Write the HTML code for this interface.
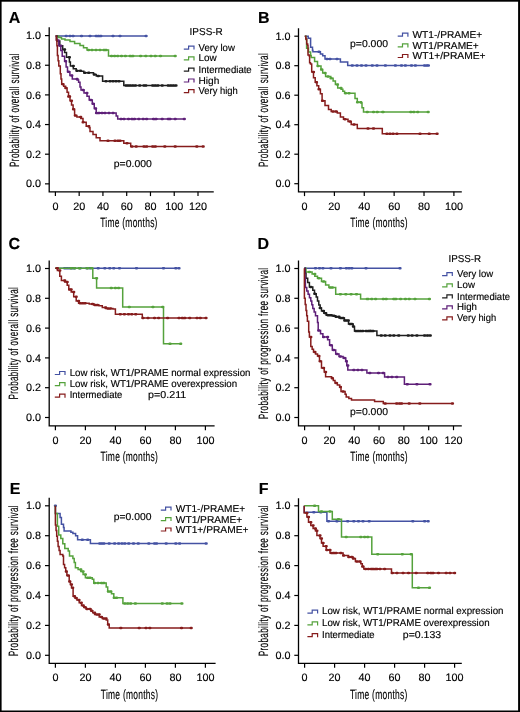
<!DOCTYPE html>
<html><head><meta charset="utf-8"><style>
html,body{margin:0;padding:0;background:#fff;width:520px;height:712px;overflow:hidden}
svg{display:block;will-change:transform}
text{font-family:"Liberation Sans", sans-serif;fill:#000;stroke:#000;stroke-width:0.15px;text-rendering:geometricPrecision}
</style></head><body>
<svg width="520" height="712" viewBox="0 0 520 712">
<rect x="0" y="0" width="520" height="712" fill="#fff"/>
<path d="M49.2 27.3 V191.8 H213.75" fill="none" stroke="#000" stroke-width="1.3"/>
<path d="M45.0 183.85 H49.2" stroke="#000" stroke-width="1.2"/>
<text x="41.1" y="187.45" font-size="10.8" text-anchor="end">0.0</text>
<path d="M45.0 154.20 H49.2" stroke="#000" stroke-width="1.2"/>
<text x="41.1" y="157.8" font-size="10.8" text-anchor="end">0.2</text>
<path d="M45.0 124.55 H49.2" stroke="#000" stroke-width="1.2"/>
<text x="41.1" y="128.15" font-size="10.8" text-anchor="end">0.4</text>
<path d="M45.0 94.90 H49.2" stroke="#000" stroke-width="1.2"/>
<text x="41.1" y="98.5" font-size="10.8" text-anchor="end">0.6</text>
<path d="M45.0 65.25 H49.2" stroke="#000" stroke-width="1.2"/>
<text x="41.1" y="68.85" font-size="10.8" text-anchor="end">0.8</text>
<path d="M45.0 35.60 H49.2" stroke="#000" stroke-width="1.2"/>
<text x="41.1" y="39.2" font-size="10.8" text-anchor="end">1.0</text>
<path d="M55.40 191.8 V196.10000000000002" stroke="#000" stroke-width="1.2"/>
<text x="55.4" y="209.8" font-size="10.8" text-anchor="middle">0</text>
<path d="M79.17 191.8 V196.10000000000002" stroke="#000" stroke-width="1.2"/>
<text x="79.17" y="209.8" font-size="10.8" text-anchor="middle">20</text>
<path d="M102.93 191.8 V196.10000000000002" stroke="#000" stroke-width="1.2"/>
<text x="102.93" y="209.8" font-size="10.8" text-anchor="middle">40</text>
<path d="M126.70 191.8 V196.10000000000002" stroke="#000" stroke-width="1.2"/>
<text x="126.7" y="209.8" font-size="10.8" text-anchor="middle">60</text>
<path d="M150.47 191.8 V196.10000000000002" stroke="#000" stroke-width="1.2"/>
<text x="150.47" y="209.8" font-size="10.8" text-anchor="middle">80</text>
<path d="M174.23 191.8 V196.10000000000002" stroke="#000" stroke-width="1.2"/>
<text x="174.23" y="209.8" font-size="10.8" text-anchor="middle">100</text>
<path d="M198.00 191.8 V196.10000000000002" stroke="#000" stroke-width="1.2"/>
<text x="198.0" y="209.8" font-size="10.8" text-anchor="middle">120</text>
<path d="M298.5 28.2 V191.8 H461.8" fill="none" stroke="#000" stroke-width="1.3"/>
<path d="M294.3 183.70 H298.5" stroke="#000" stroke-width="1.2"/>
<text x="290.4" y="187.3" font-size="10.8" text-anchor="end">0.0</text>
<path d="M294.3 154.20 H298.5" stroke="#000" stroke-width="1.2"/>
<text x="290.4" y="157.8" font-size="10.8" text-anchor="end">0.2</text>
<path d="M294.3 124.70 H298.5" stroke="#000" stroke-width="1.2"/>
<text x="290.4" y="128.3" font-size="10.8" text-anchor="end">0.4</text>
<path d="M294.3 95.20 H298.5" stroke="#000" stroke-width="1.2"/>
<text x="290.4" y="98.8" font-size="10.8" text-anchor="end">0.6</text>
<path d="M294.3 65.70 H298.5" stroke="#000" stroke-width="1.2"/>
<text x="290.4" y="69.3" font-size="10.8" text-anchor="end">0.8</text>
<path d="M294.3 36.20 H298.5" stroke="#000" stroke-width="1.2"/>
<text x="290.4" y="39.8" font-size="10.8" text-anchor="end">1.0</text>
<path d="M304.50 191.8 V196.10000000000002" stroke="#000" stroke-width="1.2"/>
<text x="304.5" y="209.8" font-size="10.8" text-anchor="middle">0</text>
<path d="M334.38 191.8 V196.10000000000002" stroke="#000" stroke-width="1.2"/>
<text x="334.38" y="209.8" font-size="10.8" text-anchor="middle">20</text>
<path d="M364.26 191.8 V196.10000000000002" stroke="#000" stroke-width="1.2"/>
<text x="364.26" y="209.8" font-size="10.8" text-anchor="middle">40</text>
<path d="M394.14 191.8 V196.10000000000002" stroke="#000" stroke-width="1.2"/>
<text x="394.14" y="209.8" font-size="10.8" text-anchor="middle">60</text>
<path d="M424.02 191.8 V196.10000000000002" stroke="#000" stroke-width="1.2"/>
<text x="424.02" y="209.8" font-size="10.8" text-anchor="middle">80</text>
<path d="M453.90 191.8 V196.10000000000002" stroke="#000" stroke-width="1.2"/>
<text x="453.9" y="209.8" font-size="10.8" text-anchor="middle">100</text>
<path d="M49.2 260.4 V425.9 H214.6" fill="none" stroke="#000" stroke-width="1.3"/>
<path d="M45.0 417.50 H49.2" stroke="#000" stroke-width="1.2"/>
<text x="41.1" y="421.1" font-size="10.8" text-anchor="end">0.0</text>
<path d="M45.0 387.70 H49.2" stroke="#000" stroke-width="1.2"/>
<text x="41.1" y="391.3" font-size="10.8" text-anchor="end">0.2</text>
<path d="M45.0 357.90 H49.2" stroke="#000" stroke-width="1.2"/>
<text x="41.1" y="361.5" font-size="10.8" text-anchor="end">0.4</text>
<path d="M45.0 328.10 H49.2" stroke="#000" stroke-width="1.2"/>
<text x="41.1" y="331.7" font-size="10.8" text-anchor="end">0.6</text>
<path d="M45.0 298.30 H49.2" stroke="#000" stroke-width="1.2"/>
<text x="41.1" y="301.9" font-size="10.8" text-anchor="end">0.8</text>
<path d="M45.0 268.50 H49.2" stroke="#000" stroke-width="1.2"/>
<text x="41.1" y="272.1" font-size="10.8" text-anchor="end">1.0</text>
<path d="M55.40 425.9 V430.2" stroke="#000" stroke-width="1.2"/>
<text x="55.4" y="443.9" font-size="10.8" text-anchor="middle">0</text>
<path d="M85.40 425.9 V430.2" stroke="#000" stroke-width="1.2"/>
<text x="85.4" y="443.9" font-size="10.8" text-anchor="middle">20</text>
<path d="M115.40 425.9 V430.2" stroke="#000" stroke-width="1.2"/>
<text x="115.4" y="443.9" font-size="10.8" text-anchor="middle">40</text>
<path d="M145.40 425.9 V430.2" stroke="#000" stroke-width="1.2"/>
<text x="145.4" y="443.9" font-size="10.8" text-anchor="middle">60</text>
<path d="M175.40 425.9 V430.2" stroke="#000" stroke-width="1.2"/>
<text x="175.4" y="443.9" font-size="10.8" text-anchor="middle">80</text>
<path d="M205.40 425.9 V430.2" stroke="#000" stroke-width="1.2"/>
<text x="205.4" y="443.9" font-size="10.8" text-anchor="middle">100</text>
<path d="M298.5 260.5 V425.9 H461.8" fill="none" stroke="#000" stroke-width="1.3"/>
<path d="M294.3 417.50 H298.5" stroke="#000" stroke-width="1.2"/>
<text x="290.4" y="421.1" font-size="10.8" text-anchor="end">0.0</text>
<path d="M294.3 387.70 H298.5" stroke="#000" stroke-width="1.2"/>
<text x="290.4" y="391.3" font-size="10.8" text-anchor="end">0.2</text>
<path d="M294.3 357.90 H298.5" stroke="#000" stroke-width="1.2"/>
<text x="290.4" y="361.5" font-size="10.8" text-anchor="end">0.4</text>
<path d="M294.3 328.10 H298.5" stroke="#000" stroke-width="1.2"/>
<text x="290.4" y="331.7" font-size="10.8" text-anchor="end">0.6</text>
<path d="M294.3 298.30 H298.5" stroke="#000" stroke-width="1.2"/>
<text x="290.4" y="301.9" font-size="10.8" text-anchor="end">0.8</text>
<path d="M294.3 268.50 H298.5" stroke="#000" stroke-width="1.2"/>
<text x="290.4" y="272.1" font-size="10.8" text-anchor="end">1.0</text>
<path d="M304.60 425.9 V430.2" stroke="#000" stroke-width="1.2"/>
<text x="304.6" y="443.9" font-size="10.8" text-anchor="middle">0</text>
<path d="M329.42 425.9 V430.2" stroke="#000" stroke-width="1.2"/>
<text x="329.42" y="443.9" font-size="10.8" text-anchor="middle">20</text>
<path d="M354.23 425.9 V430.2" stroke="#000" stroke-width="1.2"/>
<text x="354.23" y="443.9" font-size="10.8" text-anchor="middle">40</text>
<path d="M379.05 425.9 V430.2" stroke="#000" stroke-width="1.2"/>
<text x="379.05" y="443.9" font-size="10.8" text-anchor="middle">60</text>
<path d="M403.87 425.9 V430.2" stroke="#000" stroke-width="1.2"/>
<text x="403.87" y="443.9" font-size="10.8" text-anchor="middle">80</text>
<path d="M428.68 425.9 V430.2" stroke="#000" stroke-width="1.2"/>
<text x="428.68" y="443.9" font-size="10.8" text-anchor="middle">100</text>
<path d="M453.50 425.9 V430.2" stroke="#000" stroke-width="1.2"/>
<text x="453.5" y="443.9" font-size="10.8" text-anchor="middle">120</text>
<path d="M49.2 497.7 V663.4 H215.6" fill="none" stroke="#000" stroke-width="1.3"/>
<path d="M45.0 655.30 H49.2" stroke="#000" stroke-width="1.2"/>
<text x="41.1" y="658.9" font-size="10.8" text-anchor="end">0.0</text>
<path d="M45.0 625.40 H49.2" stroke="#000" stroke-width="1.2"/>
<text x="41.1" y="629.0" font-size="10.8" text-anchor="end">0.2</text>
<path d="M45.0 595.50 H49.2" stroke="#000" stroke-width="1.2"/>
<text x="41.1" y="599.1" font-size="10.8" text-anchor="end">0.4</text>
<path d="M45.0 565.60 H49.2" stroke="#000" stroke-width="1.2"/>
<text x="41.1" y="569.2" font-size="10.8" text-anchor="end">0.6</text>
<path d="M45.0 535.70 H49.2" stroke="#000" stroke-width="1.2"/>
<text x="41.1" y="539.3" font-size="10.8" text-anchor="end">0.8</text>
<path d="M45.0 505.80 H49.2" stroke="#000" stroke-width="1.2"/>
<text x="41.1" y="509.4" font-size="10.8" text-anchor="end">1.0</text>
<path d="M55.40 663.4 V667.6999999999999" stroke="#000" stroke-width="1.2"/>
<text x="55.4" y="681.4" font-size="10.8" text-anchor="middle">0</text>
<path d="M85.40 663.4 V667.6999999999999" stroke="#000" stroke-width="1.2"/>
<text x="85.4" y="681.4" font-size="10.8" text-anchor="middle">20</text>
<path d="M115.40 663.4 V667.6999999999999" stroke="#000" stroke-width="1.2"/>
<text x="115.4" y="681.4" font-size="10.8" text-anchor="middle">40</text>
<path d="M145.40 663.4 V667.6999999999999" stroke="#000" stroke-width="1.2"/>
<text x="145.4" y="681.4" font-size="10.8" text-anchor="middle">60</text>
<path d="M175.40 663.4 V667.6999999999999" stroke="#000" stroke-width="1.2"/>
<text x="175.4" y="681.4" font-size="10.8" text-anchor="middle">80</text>
<path d="M205.40 663.4 V667.6999999999999" stroke="#000" stroke-width="1.2"/>
<text x="205.4" y="681.4" font-size="10.8" text-anchor="middle">100</text>
<path d="M298.5 498.2 V663.4 H461.8" fill="none" stroke="#000" stroke-width="1.3"/>
<path d="M294.3 655.30 H298.5" stroke="#000" stroke-width="1.2"/>
<text x="290.4" y="658.9" font-size="10.8" text-anchor="end">0.0</text>
<path d="M294.3 625.40 H298.5" stroke="#000" stroke-width="1.2"/>
<text x="290.4" y="629.0" font-size="10.8" text-anchor="end">0.2</text>
<path d="M294.3 595.50 H298.5" stroke="#000" stroke-width="1.2"/>
<text x="290.4" y="599.1" font-size="10.8" text-anchor="end">0.4</text>
<path d="M294.3 565.60 H298.5" stroke="#000" stroke-width="1.2"/>
<text x="290.4" y="569.2" font-size="10.8" text-anchor="end">0.6</text>
<path d="M294.3 535.70 H298.5" stroke="#000" stroke-width="1.2"/>
<text x="290.4" y="539.3" font-size="10.8" text-anchor="end">0.8</text>
<path d="M294.3 505.80 H298.5" stroke="#000" stroke-width="1.2"/>
<text x="290.4" y="509.4" font-size="10.8" text-anchor="end">1.0</text>
<path d="M304.60 663.4 V667.6999999999999" stroke="#000" stroke-width="1.2"/>
<text x="304.6" y="681.4" font-size="10.8" text-anchor="middle">0</text>
<path d="M334.60 663.4 V667.6999999999999" stroke="#000" stroke-width="1.2"/>
<text x="334.6" y="681.4" font-size="10.8" text-anchor="middle">20</text>
<path d="M364.60 663.4 V667.6999999999999" stroke="#000" stroke-width="1.2"/>
<text x="364.6" y="681.4" font-size="10.8" text-anchor="middle">40</text>
<path d="M394.60 663.4 V667.6999999999999" stroke="#000" stroke-width="1.2"/>
<text x="394.6" y="681.4" font-size="10.8" text-anchor="middle">60</text>
<path d="M424.60 663.4 V667.6999999999999" stroke="#000" stroke-width="1.2"/>
<text x="424.6" y="681.4" font-size="10.8" text-anchor="middle">80</text>
<path d="M454.60 663.4 V667.6999999999999" stroke="#000" stroke-width="1.2"/>
<text x="454.6" y="681.4" font-size="10.8" text-anchor="middle">100</text>
<text x="8.8" y="22.9" font-size="16" font-weight="bold">A</text>
<text x="257.9" y="23.1" font-size="16" font-weight="bold">B</text>
<text x="8.5" y="249.2" font-size="16" font-weight="bold">C</text>
<text x="257.6" y="249.4" font-size="16" font-weight="bold">D</text>
<text x="9.8" y="493.8" font-size="16" font-weight="bold">E</text>
<text x="258.8" y="493.8" font-size="16" font-weight="bold">F</text>
<text transform="translate(19.0 166.9) rotate(-90)" x="0" y="0" font-size="13.5" textLength="113.7" lengthAdjust="spacingAndGlyphs" style="letter-spacing:0.6px" stroke="#111" stroke-width="0.3">Probability of overall survival</text>
<text transform="translate(267.7 167.10000000000002) rotate(-90)" x="0" y="0" font-size="13.5" textLength="114.2" lengthAdjust="spacingAndGlyphs" style="letter-spacing:0.6px" stroke="#111" stroke-width="0.3">Probability of overall survival</text>
<text transform="translate(18.3 399.40000000000003) rotate(-90)" x="0" y="0" font-size="13.5" textLength="112.6" lengthAdjust="spacingAndGlyphs" style="letter-spacing:0.6px" stroke="#111" stroke-width="0.3">Probability of overall survival</text>
<text transform="translate(268.1 419.2) rotate(-90)" x="0" y="0" font-size="13.5" textLength="151.6" lengthAdjust="spacingAndGlyphs" style="letter-spacing:0.6px" stroke="#111" stroke-width="0.3">Probability of progression free survival</text>
<text transform="translate(18.2 656.1999999999999) rotate(-90)" x="0" y="0" font-size="13.5" textLength="151.2" lengthAdjust="spacingAndGlyphs" style="letter-spacing:0.6px" stroke="#111" stroke-width="0.3">Probability of progression free survival</text>
<text transform="translate(268.1 656.1999999999999) rotate(-90)" x="0" y="0" font-size="13.5" textLength="151.2" lengthAdjust="spacingAndGlyphs" style="letter-spacing:0.6px" stroke="#111" stroke-width="0.3">Probability of progression free survival</text>
<text x="100.2" y="227.3" font-size="13.3" textLength="57.5" lengthAdjust="spacingAndGlyphs" stroke="#000" stroke-width="0.35" style="letter-spacing:0.4px">Time (months)</text>
<text x="350.3" y="227.3" font-size="13.3" textLength="57.5" lengthAdjust="spacingAndGlyphs" stroke="#000" stroke-width="0.35" style="letter-spacing:0.4px">Time (months)</text>
<text x="100.6" y="461.0" font-size="13.3" textLength="57.5" lengthAdjust="spacingAndGlyphs" stroke="#000" stroke-width="0.35" style="letter-spacing:0.4px">Time (months)</text>
<text x="350.3" y="461.0" font-size="13.3" textLength="57.5" lengthAdjust="spacingAndGlyphs" stroke="#000" stroke-width="0.35" style="letter-spacing:0.4px">Time (months)</text>
<text x="100.8" y="699.0" font-size="13.3" textLength="57.5" lengthAdjust="spacingAndGlyphs" stroke="#000" stroke-width="0.35" style="letter-spacing:0.4px">Time (months)</text>
<text x="350.0" y="699.0" font-size="13.3" textLength="57.5" lengthAdjust="spacingAndGlyphs" stroke="#000" stroke-width="0.35" style="letter-spacing:0.4px">Time (months)</text>
<text x="189.6" y="35.2" font-size="10" textLength="33.2" lengthAdjust="spacingAndGlyphs">IPSS-R</text>
<path d="M183.8 49.1 H188.60000000000002 V46.1 H194.0 V49.6" fill="none" stroke="#4452a3" stroke-width="1.2"/>
<text x="198.5" y="50.6" font-size="10" textLength="36.4" lengthAdjust="spacingAndGlyphs" stroke="#000" stroke-width="0.2">Very low</text>
<path d="M183.8 59.9 H188.60000000000002 V56.9 H194.0 V60.4" fill="none" stroke="#55a23c" stroke-width="1.2"/>
<text x="198.5" y="61.4" font-size="10" textLength="18.2" lengthAdjust="spacingAndGlyphs" stroke="#000" stroke-width="0.2">Low</text>
<path d="M183.8 71.1 H188.60000000000002 V68.1 H194.0 V71.6" fill="none" stroke="#1e1e1e" stroke-width="1.2"/>
<text x="198.5" y="72.6" font-size="10" textLength="53.2" lengthAdjust="spacingAndGlyphs" stroke="#000" stroke-width="0.2">Intermediate</text>
<path d="M183.8 82.0 H188.60000000000002 V79.0 H194.0 V82.5" fill="none" stroke="#5e1f78" stroke-width="1.2"/>
<text x="198.5" y="83.5" font-size="10" textLength="20.8" lengthAdjust="spacingAndGlyphs" stroke="#000" stroke-width="0.2">High</text>
<path d="M183.8 92.7 H188.60000000000002 V89.7 H194.0 V93.2" fill="none" stroke="#861c1c" stroke-width="1.2"/>
<text x="198.5" y="94.2" font-size="10" textLength="39.3" lengthAdjust="spacingAndGlyphs" stroke="#000" stroke-width="0.2">Very high</text>
<text x="113.8" y="166.6" font-size="10" textLength="38" lengthAdjust="spacingAndGlyphs">p=0.000</text>
<path d="M397.7 36.199999999999996 H402.5 V33.199999999999996 H407.9 V36.699999999999996" fill="none" stroke="#4452a3" stroke-width="1.2"/>
<text x="412.5" y="37.8" font-size="10" textLength="69.8" lengthAdjust="spacingAndGlyphs" stroke="#000" stroke-width="0.2">WT1-/PRAME+</text>
<path d="M397.7 46.9 H402.5 V43.9 H407.9 V47.4" fill="none" stroke="#55a23c" stroke-width="1.2"/>
<text x="412.5" y="48.5" font-size="10" textLength="66.3" lengthAdjust="spacingAndGlyphs" stroke="#000" stroke-width="0.2">WT1/PRAME+</text>
<path d="M397.7 57.5 H402.5 V54.5 H407.9 V58.0" fill="none" stroke="#861c1c" stroke-width="1.2"/>
<text x="412.5" y="59.1" font-size="10" textLength="73.1" lengthAdjust="spacingAndGlyphs" stroke="#000" stroke-width="0.2">WT1+/PRAME+</text>
<text x="350" y="46.5" font-size="10" textLength="38" lengthAdjust="spacingAndGlyphs">p=0.000</text>
<path d="M54.8 374.5 H59.599999999999994 V371.5 H65.0 V375.0" fill="none" stroke="#4452a3" stroke-width="1.2"/>
<text x="69.7" y="375.6" font-size="10" textLength="180.8" lengthAdjust="spacingAndGlyphs" stroke="#000" stroke-width="0.2">Low risk, WT1/PRAME normal expression</text>
<path d="M54.8 385.7 H59.599999999999994 V382.7 H65.0 V386.2" fill="none" stroke="#55a23c" stroke-width="1.2"/>
<text x="69.7" y="386.8" font-size="10" textLength="167.5" lengthAdjust="spacingAndGlyphs" stroke="#000" stroke-width="0.2">Low risk, WT1/PRAME overexpression</text>
<path d="M54.8 397.2 H59.599999999999994 V394.2 H65.0 V397.7" fill="none" stroke="#861c1c" stroke-width="1.2"/>
<text x="69.7" y="398.3" font-size="10" textLength="52.6" lengthAdjust="spacingAndGlyphs" stroke="#000" stroke-width="0.2">Intermediate</text>
<text x="148.1" y="398.3" font-size="10" textLength="38.2" lengthAdjust="spacingAndGlyphs">p=0.211</text>
<text x="448.5" y="261.7" font-size="10" textLength="32.7" lengthAdjust="spacingAndGlyphs">IPSS-R</text>
<path d="M442.1 275.59999999999997 H446.90000000000003 V272.59999999999997 H452.3 V276.09999999999997" fill="none" stroke="#4452a3" stroke-width="1.2"/>
<text x="457.1" y="277.2" font-size="10" textLength="36.1" lengthAdjust="spacingAndGlyphs" stroke="#000" stroke-width="0.2">Very low</text>
<path d="M442.1 286.79999999999995 H446.90000000000003 V283.79999999999995 H452.3 V287.29999999999995" fill="none" stroke="#55a23c" stroke-width="1.2"/>
<text x="457.1" y="288.4" font-size="10" textLength="17.8" lengthAdjust="spacingAndGlyphs" stroke="#000" stroke-width="0.2">Low</text>
<path d="M442.1 297.9 H446.90000000000003 V294.9 H452.3 V298.4" fill="none" stroke="#1e1e1e" stroke-width="1.2"/>
<text x="457.1" y="299.5" font-size="10" textLength="53.0" lengthAdjust="spacingAndGlyphs" stroke="#000" stroke-width="0.2">Intermediate</text>
<path d="M442.1 308.79999999999995 H446.90000000000003 V305.79999999999995 H452.3 V309.29999999999995" fill="none" stroke="#5e1f78" stroke-width="1.2"/>
<text x="457.1" y="310.4" font-size="10" textLength="19.9" lengthAdjust="spacingAndGlyphs" stroke="#000" stroke-width="0.2">High</text>
<path d="M442.1 319.79999999999995 H446.90000000000003 V316.79999999999995 H452.3 V320.29999999999995" fill="none" stroke="#861c1c" stroke-width="1.2"/>
<text x="457.1" y="321.4" font-size="10" textLength="39.0" lengthAdjust="spacingAndGlyphs" stroke="#000" stroke-width="0.2">Very high</text>
<text x="350" y="414.6" font-size="10" textLength="38" lengthAdjust="spacingAndGlyphs">p=0.000</text>
<path d="M160.8 510.09999999999997 H165.60000000000002 V507.09999999999997 H171.0 V510.59999999999997" fill="none" stroke="#4452a3" stroke-width="1.2"/>
<text x="175.8" y="512.3" font-size="10" textLength="69.3" lengthAdjust="spacingAndGlyphs" stroke="#000" stroke-width="0.2">WT1-/PRAME+</text>
<path d="M160.8 520.5999999999999 H165.60000000000002 V517.5999999999999 H171.0 V521.0999999999999" fill="none" stroke="#55a23c" stroke-width="1.2"/>
<text x="175.8" y="522.8" font-size="10" textLength="66.5" lengthAdjust="spacingAndGlyphs" stroke="#000" stroke-width="0.2">WT1/PRAME+</text>
<path d="M160.8 531.0 H165.60000000000002 V528.0 H171.0 V531.5" fill="none" stroke="#861c1c" stroke-width="1.2"/>
<text x="175.8" y="533.2" font-size="10" textLength="72.7" lengthAdjust="spacingAndGlyphs" stroke="#000" stroke-width="0.2">WT1+/PRAME+</text>
<text x="113.8" y="520.3" font-size="10" textLength="37.7" lengthAdjust="spacingAndGlyphs">p=0.000</text>
<path d="M307.4 613.1 H312.2 V610.1 H317.59999999999997 V613.6" fill="none" stroke="#4452a3" stroke-width="1.2"/>
<text x="322.0" y="614.2" font-size="10" textLength="181.5" lengthAdjust="spacingAndGlyphs" stroke="#000" stroke-width="0.2">Low risk, WT1/PRAME normal expression</text>
<path d="M307.4 624.9 H312.2 V621.9 H317.59999999999997 V625.4" fill="none" stroke="#55a23c" stroke-width="1.2"/>
<text x="322.0" y="626.0" font-size="10" textLength="167.6" lengthAdjust="spacingAndGlyphs" stroke="#000" stroke-width="0.2">Low risk, WT1/PRAME overexpression</text>
<path d="M307.4 636.6999999999999 H312.2 V633.6999999999999 H317.59999999999997 V637.1999999999999" fill="none" stroke="#861c1c" stroke-width="1.2"/>
<text x="322.0" y="637.8" font-size="10" textLength="52.6" lengthAdjust="spacingAndGlyphs" stroke="#000" stroke-width="0.2">Intermediate</text>
<text x="402.8" y="637.8" font-size="10" textLength="38.3" lengthAdjust="spacingAndGlyphs">p=0.133</text>
<path d="M55.70 35.90H146.10V35.90" fill="none" stroke="#4452a3" stroke-width="1.5" stroke-linejoin="miter"/>
<path d="M65.80 35.90h0.8M69.60 35.90h0.8M72.70 35.90h0.8M81.10 35.90h0.8M89.60 35.90h0.8M95.80 35.90h0.8M98.10 35.90h0.8M100.40 35.90h0.8M112.60 35.90h0.8M119.60 35.90h0.8M145.70 35.90h0.8" fill="none" stroke="#4452a3" stroke-width="2.50" stroke-linecap="round"/>
<path d="M55.70 35.90H58.60V37.40H61.50V38.90H65.00V40.00H70.00V41.50H74.60V43.50H80.00V45.40H83.50V47.70H87.00V50.00H108.50V50.00H108.50V55.90H175.20V55.90" fill="none" stroke="#55a23c" stroke-width="1.5" stroke-linejoin="miter"/>
<path d="M88.10 50.00h0.8M91.60 50.00h0.8M95.60 50.00h0.8M99.60 50.00h0.8M103.60 50.00h0.8M105.60 50.00h0.8M111.10 55.90h0.8M114.20 55.90h0.8M117.30 55.90h0.8M121.10 55.90h0.8M125.00 55.90h0.8M129.80 55.90h0.8M132.40 55.90h0.8M140.20 55.90h0.8M145.40 55.90h0.8M150.60 55.90h0.8M154.90 55.90h0.8M160.10 55.90h0.8M174.80 55.90h0.8" fill="none" stroke="#55a23c" stroke-width="2.50" stroke-linecap="round"/>
<path d="M55.70 35.90H56.90V41.00H59.80V45.80H62.70V49.60H64.60V52.50H66.50V57.30H69.40V62.10H70.40V66.00H73.30V68.80H76.20V70.80H81.00V71.30H83.80V72.70H88.70V72.70H93.50V74.60H96.30V76.10H101.20V76.10H102.60V81.20H123.80V81.50H123.80V85.60H176.00V85.60" fill="none" stroke="#1e1e1e" stroke-width="1.5" stroke-linejoin="miter"/>
<path d="M64.20 49.60h0.8M69.00 57.30h0.8M72.90 66.00h0.8M76.70 70.80h0.8M80.10 70.80h0.8M84.40 72.70h0.8M88.30 72.70h0.8M94.00 74.60h0.8M97.90 76.10h0.8M105.60 81.20h0.8M109.60 81.20h0.8M112.60 81.20h0.8M115.60 81.20h0.8M118.60 81.20h0.8M125.60 85.60h0.8M127.60 85.60h0.8M129.80 85.60h0.8M132.40 85.60h0.8M135.00 85.60h0.8M139.30 85.60h0.8M143.60 85.60h0.8M145.40 85.60h0.8M152.30 85.60h0.8M154.90 85.60h0.8M157.50 85.60h0.8M161.80 85.60h0.8M167.90 85.60h0.8M170.40 85.60h0.8M173.00 85.60h0.8M175.60 85.60h0.8" fill="none" stroke="#1e1e1e" stroke-width="2.50" stroke-linecap="round"/>
<path d="M55.70 35.90H56.40V40.00H58.80V45.80H60.80V50.60H62.20V56.30H64.60V61.20H66.10V66.90H67.50V71.70H69.90V75.60H72.30V78.90H77.10V79.90H78.60V82.30H80.00V87.10H81.00V90.00H84.00V93.10H87.00V96.20H89.20V100.00H92.30V103.80H94.25V108.40H96.20V113.00H114.60V113.00H116.15V116.00H117.70V119.00H184.30V119.00" fill="none" stroke="#5e1f78" stroke-width="1.5" stroke-linejoin="miter"/>
<path d="M60.40 45.80h0.8M65.20 61.20h0.8M68.10 71.70h0.8M71.40 75.60h0.8M76.70 78.90h0.8M82.70 90.00h0.8M86.50 93.10h0.8M90.40 100.00h0.8M92.80 103.80h0.8M95.20 108.40h0.8M96.10 113.00h0.8M98.60 113.00h0.8M101.60 113.00h0.8M104.60 113.00h0.8M108.60 113.00h0.8M112.60 113.00h0.8M120.60 119.00h0.8M123.60 119.00h0.8M128.10 119.00h0.8M131.50 119.00h0.8M134.10 119.00h0.8M138.40 119.00h0.8M142.80 119.00h0.8M146.20 119.00h0.8M153.10 119.00h0.8M155.70 119.00h0.8M161.80 119.00h0.8M167.90 119.00h0.8M169.60 119.00h0.8M174.80 119.00h0.8M183.90 119.00h0.8" fill="none" stroke="#5e1f78" stroke-width="2.50" stroke-linecap="round"/>
<path d="M55.70 35.90H56.40V40.00H56.90V45.80H57.40V55.40H58.10V60.70H58.80V66.00H60.30V73.70H61.00V78.95H61.70V84.20H63.65V86.15H65.60V88.10H67.07V92.33H68.53V96.57H70.00V100.80H71.55V105.00H73.10V109.20H74.60V115.40H76.90V116.90H80.80V118.50H83.00V122.30H86.20V126.20H89.20V127.70H90.00V131.50H93.00V134.60H96.20V137.70H100.00V140.80H122.30V140.80H123.80V143.20H130.70V143.20H130.70V146.50H203.20V146.50" fill="none" stroke="#861c1c" stroke-width="1.5" stroke-linejoin="miter"/>
<path d="M62.50 84.20h0.8M65.40 88.10h0.8M68.30 96.57h0.8M69.20 96.57h0.8M71.10 100.80h0.8M73.10 109.20h0.8M75.00 115.40h0.8M80.30 116.90h0.8M82.70 122.30h0.8M88.40 126.20h0.8M107.60 140.80h0.8M114.60 140.80h0.8M117.60 140.80h0.8M119.60 140.80h0.8M126.60 143.20h0.8M131.50 146.50h0.8M135.80 146.50h0.8M143.60 146.50h0.8M146.20 146.50h0.8M152.30 146.50h0.8M154.90 146.50h0.8M164.40 146.50h0.8M174.80 146.50h0.8M196.40 146.50h0.8M202.80 146.50h0.8" fill="none" stroke="#861c1c" stroke-width="2.50" stroke-linecap="round"/>
<path d="M304.80 36.30H308.20V36.30H308.20V38.20H310.60V38.20H310.60V47.30H312.50V50.20H312.90V51.70H318.10V51.70H320.40V54.00H322.70V55.80H325.00V59.00H340.40V59.00H340.40V62.00H347.70V62.00H347.70V65.50H428.40V65.50" fill="none" stroke="#4452a3" stroke-width="1.5" stroke-linejoin="miter"/>
<path d="M318.60 51.70h0.8M326.60 59.00h0.8M329.60 59.00h0.8M336.60 59.00h0.8M351.90 65.50h0.8M356.60 65.50h0.8M361.10 65.50h0.8M365.60 65.50h0.8M371.90 65.50h0.8M376.60 65.50h0.8M385.00 65.50h0.8M395.00 65.50h0.8M401.10 65.50h0.8M405.00 65.50h0.8M411.10 65.50h0.8M415.00 65.50h0.8M424.20 65.50h0.8M426.60 65.50h0.8M428.00 65.50h0.8" fill="none" stroke="#4452a3" stroke-width="2.50" stroke-linecap="round"/>
<path d="M304.80 36.30H306.00V39.60H306.60V48.30H308.50V52.10H310.60V55.50H311.20V57.50H314.60V61.50H317.50V66.10H321.00V69.60H322.70V73.10H325.60V76.50H330.80V78.30H333.10V81.10H335.40V84.60H337.70V88.10H341.10V89.20H342.85V91.25H344.60V93.30H353.30V93.30H355.00V98.50H357.30V102.30H361.20V103.00H362.00V107.70H363.50V111.90H428.20V111.90" fill="none" stroke="#55a23c" stroke-width="1.5" stroke-linejoin="miter"/>
<path d="M317.60 66.10h0.8M321.10 69.60h0.8M324.60 73.10h0.8M327.60 76.50h0.8M330.60 78.30h0.8M337.10 84.60h0.8M340.60 88.10h0.8M345.10 93.30h0.8M348.60 93.30h0.8M357.10 102.30h0.8M360.40 102.30h0.8M366.90 111.90h0.8M373.10 111.90h0.8M376.90 111.90h0.8M382.30 111.90h0.8M382.70 111.90h0.8M410.40 111.90h0.8M413.40 111.90h0.8M417.30 111.90h0.8M427.80 111.90h0.8" fill="none" stroke="#55a23c" stroke-width="2.50" stroke-linecap="round"/>
<path d="M304.80 36.30H305.80V39.10H306.70V44.00H307.70V45.40H308.00V55.00H309.20V56.00H309.60V62.70H310.50V64.10H311.70V71.90H313.50V77.70H315.20V82.30H316.90V85.80H318.70V89.20H320.40V93.80H322.10V100.70H325.00V105.40H328.50V109.40H331.20V111.50H337.30V113.00H340.40V116.90H343.50V119.20H348.00V121.50H351.20V124.60H357.30V124.60H357.30V128.40H382.30V128.40H382.30V133.80H437.10V133.80" fill="none" stroke="#861c1c" stroke-width="1.5" stroke-linejoin="miter"/>
<path d="M313.10 71.90h0.8M316.10 82.30h0.8M318.60 89.20h0.8M322.10 100.70h0.8M332.60 111.50h0.8M335.60 111.50h0.8M344.60 119.20h0.8M349.60 121.50h0.8M353.60 124.60h0.8M367.60 128.40h0.8M373.10 128.40h0.8M386.50 133.80h0.8M389.60 133.80h0.8M392.70 133.80h0.8M396.50 133.80h0.8M419.60 133.80h0.8M428.80 133.80h0.8M436.70 133.80h0.8" fill="none" stroke="#861c1c" stroke-width="2.50" stroke-linecap="round"/>
<path d="M55.20 268.30H179.00V268.30" fill="none" stroke="#4452a3" stroke-width="1.5" stroke-linejoin="miter"/>
<path d="M64.30 268.30h0.8M66.80 268.30h0.8M69.20 268.30h0.8M71.60 268.30h0.8M74.10 268.30h0.8M79.80 268.30h0.8M86.40 268.30h0.8M89.60 268.30h0.8M97.80 268.30h0.8M104.40 268.30h0.8M109.30 268.30h0.8M113.30 268.30h0.8M119.10 268.30h0.8M136.10 268.30h0.8M163.10 268.30h0.8M175.40 268.30h0.8M178.60 268.30h0.8" fill="none" stroke="#4452a3" stroke-width="2.50" stroke-linecap="round"/>
<path d="M55.20 268.30H92.80V268.30H92.80V278.30H96.60V278.30H96.60V288.10H122.70V288.10H122.70V307.10H163.50V307.10H163.50V343.70H180.70V343.70" fill="none" stroke="#55a23c" stroke-width="1.5" stroke-linejoin="miter"/>
<path d="M70.80 268.30h0.8M74.10 268.30h0.8M79.00 268.30h0.8M87.20 268.30h0.8M91.30 268.30h0.8M96.20 278.30h0.8M110.90 288.10h0.8M115.00 288.10h0.8M118.20 288.10h0.8M128.90 307.10h0.8M152.50 307.10h0.8M162.30 307.10h0.8M169.60 343.70h0.8M180.30 343.70h0.8" fill="none" stroke="#55a23c" stroke-width="2.50" stroke-linecap="round"/>
<path d="M55.20 268.30H57.40V270.60H59.80V276.30H61.40V280.40H64.70V282.10H67.20V285.30H68.80V289.40H71.20V291.90H73.70V296.80H76.20V300.90H78.60V303.30H89.20V304.10H94.10V304.95H99.00V305.80H102.30V307.40H105.60V308.50H112.90V309.00H115.40V314.30H142.30V314.30H142.30V318.00H206.00V318.00" fill="none" stroke="#861c1c" stroke-width="1.5" stroke-linejoin="miter"/>
<path d="M57.00 268.30h0.8M59.40 270.60h0.8M64.30 280.40h0.8M66.80 282.10h0.8M69.20 289.40h0.8M70.80 289.40h0.8M73.30 291.90h0.8M75.80 296.80h0.8M78.20 300.90h0.8M79.80 303.30h0.8M82.30 303.30h0.8M84.70 303.30h0.8M92.10 304.10h0.8M94.60 304.95h0.8M97.00 304.95h0.8M105.20 307.40h0.8M107.60 308.50h0.8M110.10 308.50h0.8M119.90 314.30h0.8M124.00 314.30h0.8M128.10 314.30h0.8M131.30 314.30h0.8M135.30 314.30h0.8M142.60 318.00h0.8M147.60 318.00h0.8M154.10 318.00h0.8M158.20 318.00h0.8M167.20 318.00h0.8M178.60 318.00h0.8M181.90 318.00h0.8M184.40 318.00h0.8M189.30 318.00h0.8M196.60 318.00h0.8M199.90 318.00h0.8M205.60 318.00h0.8" fill="none" stroke="#861c1c" stroke-width="2.50" stroke-linecap="round"/>
<path d="M304.40 268.20H400.00V268.20" fill="none" stroke="#4452a3" stroke-width="1.5" stroke-linejoin="miter"/>
<path d="M315.10 268.20h0.8M319.10 268.20h0.8M322.50 268.20h0.8M330.60 268.20h0.8M340.00 268.20h0.8M346.00 268.20h0.8M348.70 268.20h0.8M351.40 268.20h0.8M365.60 268.20h0.8M399.60 268.20h0.8" fill="none" stroke="#4452a3" stroke-width="2.50" stroke-linecap="round"/>
<path d="M304.40 268.20H306.00V272.10H312.10V274.10H314.80V276.15H317.50V278.20H321.50V281.50H325.60V284.90H328.90V287.60H335.70V289.60H335.70V294.30H360.60V294.30H360.60V299.00H429.40V299.00" fill="none" stroke="#55a23c" stroke-width="1.5" stroke-linejoin="miter"/>
<path d="M309.00 272.10h0.8M314.40 274.10h0.8M318.40 278.20h0.8M323.20 281.50h0.8M329.90 287.60h0.8M331.90 287.60h0.8M340.00 294.30h0.8M345.40 294.30h0.8M350.70 294.30h0.8M356.10 294.30h0.8M366.90 299.00h0.8M367.50 299.00h0.8M371.30 299.00h0.8M375.20 299.00h0.8M382.90 299.00h0.8M385.80 299.00h0.8M393.40 299.00h0.8M395.40 299.00h0.8M400.20 299.00h0.8M405.00 299.00h0.8M408.80 299.00h0.8M414.60 299.00h0.8M429.00 299.00h0.8" fill="none" stroke="#55a23c" stroke-width="2.50" stroke-linecap="round"/>
<path d="M304.40 268.20H305.20V273.20H306.00V278.20H307.70V282.55H309.40V286.90H312.80V290.30H314.50V293.65H316.20V297.00H317.50V301.05H318.80V305.10H320.15V308.10H321.50V311.10H323.85V313.15H326.20V315.20H332.30V315.80H335.65V316.85H339.00V317.90H344.40V320.50H348.50V323.90H353.20V326.60H354.50V330.90H376.90V330.90H376.90V335.50H430.30V335.50" fill="none" stroke="#1e1e1e" stroke-width="1.5" stroke-linejoin="miter"/>
<path d="M310.40 286.90h0.8M314.40 293.65h0.8M319.80 308.10h0.8M325.20 313.15h0.8M328.50 315.20h0.8M323.10 311.10h0.8M325.40 313.15h0.8M327.70 315.20h0.8M330.60 315.20h0.8M333.40 315.80h0.8M335.70 316.85h0.8M338.60 316.85h0.8M340.40 317.90h0.8M342.70 317.90h0.8M344.40 320.50h0.8M346.10 320.50h0.8M347.90 320.50h0.8M349.60 323.90h0.8M351.30 323.90h0.8M353.00 326.60h0.8M355.40 330.90h0.8M357.70 330.90h0.8M360.00 330.90h0.8M362.30 330.90h0.8M365.70 330.90h0.8M368.00 330.90h0.8M370.40 330.90h0.8M372.70 330.90h0.8M369.40 330.90h0.8M372.30 330.90h0.8M380.90 335.50h0.8M384.80 335.50h0.8M389.60 335.50h0.8M393.40 335.50h0.8M398.30 335.50h0.8M407.90 335.50h0.8M411.70 335.50h0.8M416.50 335.50h0.8M424.20 335.50h0.8M427.10 335.50h0.8M429.90 335.50h0.8" fill="none" stroke="#1e1e1e" stroke-width="2.50" stroke-linecap="round"/>
<path d="M304.40 268.20H304.90V277.90H305.40V287.60H306.75V290.95H308.10V294.30H309.45V297.65H310.80V301.00H311.80V304.70H312.80V308.40H314.15V312.10H315.50V315.80H317.50V322.60H318.20V330.40H320.55V333.75H322.90V337.10H327.60V339.80H329.60V345.20H332.30V349.90H335.70V353.90H339.00V356.60H343.10V358.00H345.80V361.30H346.80V365.60H347.80V369.90H366.90V369.90H366.90V373.00H384.60V373.00H384.60V376.90H404.40V376.90H404.40V384.20H430.00V384.20" fill="none" stroke="#5e1f78" stroke-width="1.5" stroke-linejoin="miter"/>
<path d="M318.40 330.40h0.8M323.20 337.10h0.8M327.20 337.10h0.8M330.60 345.20h0.8M333.20 349.90h0.8M336.60 353.90h0.8M340.00 356.60h0.8M344.00 358.00h0.8M346.00 361.30h0.8M347.40 365.60h0.8M353.40 369.90h0.8M357.50 369.90h0.8M361.50 369.90h0.8M369.40 373.00h0.8M378.10 373.00h0.8M382.90 373.00h0.8M387.60 376.90h0.8M391.50 376.90h0.8M396.30 376.90h0.8M406.90 384.20h0.8M416.50 384.20h0.8M429.60 384.20h0.8" fill="none" stroke="#5e1f78" stroke-width="2.50" stroke-linecap="round"/>
<path d="M304.40 268.20H304.40V298.30H305.20V304.40H306.00V310.50H306.70V315.85H307.40V321.20H308.70V332.00H309.40V337.10H310.80V346.50H312.15V349.20H313.50V351.90H315.50V353.95H317.50V356.00H319.50V361.30H321.50V368.10H324.20V372.10H325.60V376.80H331.60V378.20H333.30V380.55H335.00V382.90H337.35V384.90H339.70V386.90H341.00V391.60H345.10V394.30H346.20V397.00H348.85V398.50H351.50V400.00H374.60V400.00H374.60V401.50H383.30V401.50H383.30V403.60H452.50V403.60" fill="none" stroke="#861c1c" stroke-width="1.5" stroke-linejoin="miter"/>
<path d="M310.40 337.10h0.8M314.40 351.90h0.8M318.40 356.00h0.8M319.80 361.30h0.8M323.20 368.10h0.8M325.20 372.10h0.8M331.90 378.20h0.8M335.90 382.90h0.8M340.00 386.90h0.8M342.70 391.60h0.8M384.80 403.60h0.8M396.30 403.60h0.8M399.20 403.60h0.8M401.10 403.60h0.8M408.80 403.60h0.8M419.40 403.60h0.8M452.10 403.60h0.8" fill="none" stroke="#861c1c" stroke-width="2.50" stroke-linecap="round"/>
<path d="M55.40 505.70H55.40V513.50H60.10V513.50H60.10V517.50H61.40V517.50H61.40V524.20H63.50V527.60H64.10V531.00H68.80V531.00H70.90V532.30H72.90V533.60H75.60V535.70H77.60V539.70H90.40V539.70H90.40V543.40H206.20V543.40" fill="none" stroke="#4452a3" stroke-width="1.5" stroke-linejoin="miter"/>
<path d="M55.00 505.70h0.8M81.90 539.70h0.8M87.30 539.70h0.8M99.40 543.40h0.8M101.40 543.40h0.8M103.40 543.40h0.8M108.80 543.40h0.8M114.20 543.40h0.8M118.20 543.40h0.8M121.50 543.40h0.8M124.40 543.40h0.8M128.30 543.40h0.8M133.10 543.40h0.8M137.90 543.40h0.8M148.40 543.40h0.8M154.20 543.40h0.8M156.10 543.40h0.8M165.80 543.40h0.8M175.40 543.40h0.8M179.20 543.40h0.8M205.80 543.40h0.8" fill="none" stroke="#4452a3" stroke-width="2.50" stroke-linecap="round"/>
<path d="M55.40 505.70H55.40V513.50H56.50V513.50H57.40V526.20H58.70V535.00H60.80V538.40H62.80V543.70H64.80V548.50H68.20V551.10H69.50V555.90H72.90V558.50H74.20V562.60H75.40V567.70H78.10V569.60H80.80V571.50H83.10V574.60H85.40V577.70H92.30V579.20H93.80V583.10H103.80V583.10H106.20V586.90H107.70V591.50H111.50V593.80H113.80V597.70H122.90V597.70H122.90V603.40H181.90V603.40" fill="none" stroke="#55a23c" stroke-width="1.5" stroke-linejoin="miter"/>
<path d="M80.40 569.60h0.8M82.70 571.50h0.8M85.00 574.60h0.8M87.30 577.70h0.8M89.60 577.70h0.8M94.20 583.10h0.8M97.70 583.10h0.8M101.10 583.10h0.8M103.40 583.10h0.8M108.00 591.50h0.8M110.30 591.50h0.8M113.80 597.70h0.8M116.10 597.70h0.8M124.40 603.40h0.8M127.30 603.40h0.8M130.20 603.40h0.8M135.00 603.40h0.8M161.90 603.40h0.8M166.70 603.40h0.8M169.60 603.40h0.8M181.50 603.40h0.8" fill="none" stroke="#55a23c" stroke-width="2.50" stroke-linecap="round"/>
<path d="M55.40 505.70H55.40V524.90H56.05V530.60H56.70V536.30H57.40V541.35H58.10V546.40H59.10V550.45H60.10V554.50H62.80V555.90H63.50V564.60H64.60V567.70H65.75V571.55H66.90V575.40H69.20V581.50H70.35V584.60H71.50V587.70H73.10V596.20H75.00V598.10H76.90V600.00H79.20V602.70H81.50V605.40H83.85V607.15H86.20V608.90H90.80V610.80H92.70V612.70H94.60V614.60H99.20V616.90H102.30V618.50H106.20V620.00H107.70V624.60H109.20V628.10H191.20V628.10" fill="none" stroke="#861c1c" stroke-width="1.5" stroke-linejoin="miter"/>
<path d="M65.90 571.55h0.8M67.70 575.40h0.8M69.40 581.50h0.8M71.10 584.60h0.8M72.30 587.70h0.8M74.00 596.20h0.8M75.70 598.10h0.8M78.60 600.00h0.8M80.90 602.70h0.8M82.70 605.40h0.8M84.40 607.15h0.8M86.70 608.90h0.8M89.60 608.90h0.8M91.30 610.80h0.8M94.20 612.70h0.8M96.50 614.60h0.8M98.80 614.60h0.8M101.10 616.90h0.8M103.40 618.50h0.8M105.70 618.50h0.8M108.00 624.60h0.8M120.40 628.10h0.8M138.80 628.10h0.8M145.60 628.10h0.8M149.40 628.10h0.8M181.10 628.10h0.8M190.80 628.10h0.8" fill="none" stroke="#861c1c" stroke-width="2.50" stroke-linecap="round"/>
<path d="M304.20 505.80H304.20V512.30H326.90V512.30H326.90V521.20H428.20V521.20" fill="none" stroke="#4452a3" stroke-width="1.5" stroke-linejoin="miter"/>
<path d="M313.40 512.30h0.8M320.40 512.30h0.8M328.10 521.20h0.8M336.50 521.20h0.8M347.30 521.20h0.8M353.40 521.20h0.8M358.10 521.20h0.8M362.60 521.20h0.8M368.80 521.20h0.8M412.40 521.20h0.8M424.20 521.20h0.8M427.80 521.20h0.8" fill="none" stroke="#4452a3" stroke-width="2.50" stroke-linecap="round"/>
<path d="M304.20 505.80H318.50V505.80H318.50V511.50H332.30V511.50H332.30V519.20H341.50V519.20H341.50V536.90H371.80V536.90H371.80V554.20H412.30V554.20H412.30V587.70H429.50V587.70" fill="none" stroke="#55a23c" stroke-width="1.5" stroke-linejoin="miter"/>
<path d="M314.20 505.80h0.8M321.10 511.50h0.8M329.60 511.50h0.8M338.10 519.20h0.8M345.80 536.90h0.8M360.40 536.90h0.8M364.20 536.90h0.8M367.30 536.90h0.8M377.30 554.20h0.8M401.90 554.20h0.8M410.80 554.20h0.8M418.10 587.70h0.8M429.10 587.70h0.8" fill="none" stroke="#55a23c" stroke-width="2.50" stroke-linecap="round"/>
<path d="M304.20 505.80H304.20V513.10H306.90V516.90H308.50V522.30H310.80V525.40H313.10V528.50H315.40V530.80H316.90V535.40H320.00V538.50H321.50V543.10H323.10V546.20H326.20V550.00H330.00V553.10H338.50V553.10H343.10V555.40H348.50V556.90H353.10V558.50H355.40V561.50H360.80V563.80H362.30V566.40H363.80V569.00H391.50V569.00H391.50V573.10H454.60V573.10" fill="none" stroke="#861c1c" stroke-width="1.5" stroke-linejoin="miter"/>
<path d="M306.50 513.10h0.8M308.10 516.90h0.8M310.40 522.30h0.8M312.70 525.40h0.8M315.00 528.50h0.8M316.50 530.80h0.8M319.60 535.40h0.8M321.10 538.50h0.8M322.70 543.10h0.8M325.80 546.20h0.8M329.60 550.00h0.8M326.50 550.00h0.8M331.10 553.10h0.8M333.40 553.10h0.8M335.70 553.10h0.8M340.40 553.10h0.8M343.20 555.40h0.8M348.40 556.90h0.8M351.30 556.90h0.8M353.00 558.50h0.8M356.50 561.50h0.8M359.40 561.50h0.8M362.30 566.40h0.8M365.20 569.00h0.8M368.00 569.00h0.8M370.90 569.00h0.8M372.70 569.00h0.8M375.00 569.00h0.8M376.50 569.00h0.8M379.60 569.00h0.8M384.20 569.00h0.8M391.90 573.10h0.8M396.50 573.10h0.8M402.70 573.10h0.8M408.10 573.10h0.8M415.80 573.10h0.8M427.30 573.10h0.8M430.40 573.10h0.8M432.70 573.10h0.8M438.10 573.10h0.8M445.80 573.10h0.8M449.60 573.10h0.8M454.20 573.10h0.8" fill="none" stroke="#861c1c" stroke-width="2.50" stroke-linecap="round"/>
<rect x="0" y="0" width="1.6" height="712" fill="#000"/>
<rect x="0" y="0" width="520" height="1.7" fill="#000"/>
<rect x="518.1" y="0" width="1.9" height="712" fill="#000"/>
<rect x="0" y="710.5" width="520" height="1.5" fill="#000"/>
</svg>
</body></html>
